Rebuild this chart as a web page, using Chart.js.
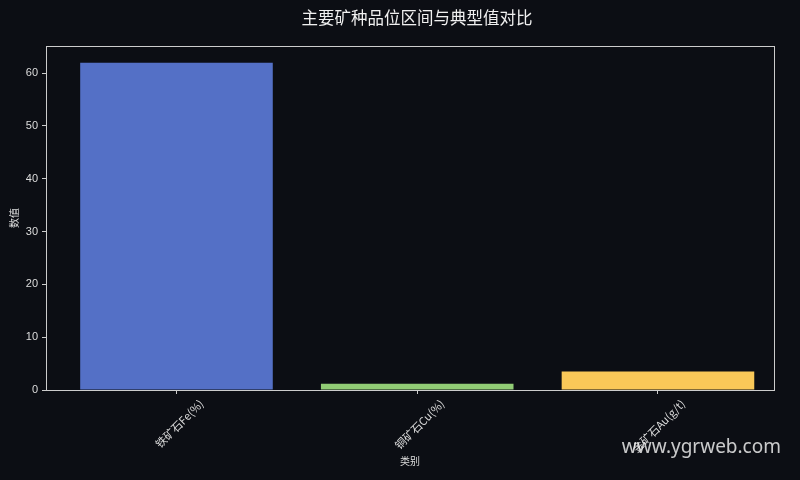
<!DOCTYPE html>
<html><head><meta charset="utf-8">
<script src="https://cdn.jsdelivr.net/npm/chart.js@4"></script>
<style>html,body{margin:0;padding:0;background:#0c0e14;}#wrap{width:800px;height:480px;}</style>
</head><body><div id="wrap"><canvas id="c" width="800" height="480"></canvas></div>
<script>
const categories = ['铁矿石Fe(%)', '铜矿石Cu(%)', '金矿石Au(g/t)'];
const values = [62, 1.2, 3.5];
const colors = ['#5470c6', '#91cc75', '#fac858'];
const yTicks = [0, 10, 20, 30, 40, 50, 60];
const titleText = '主要矿种品位区间与典型值对比';
const xTitle = '类别';
const yTitle = '数值';
const watermark = 'www.ygrweb.com';

const FONT = '"Liberation Sans", "Noto Sans CJK SC", sans-serif';
const CJK = '"Noto Sans CJK SC", sans-serif';
const TXT = '#dddddd';
const AX = '#cccccc';

const bgPlugin = {
  id: 'bg',
  beforeDraw(chart) {
    const ctx = chart.ctx;
    ctx.save();
    ctx.fillStyle = '#0c0e14';
    ctx.fillRect(0, 0, chart.width, chart.height);
    ctx.restore();
  },
  afterDraw(chart) {
    const ctx = chart.ctx, a = chart.chartArea;
    ctx.save();
    ctx.strokeStyle = AX;
    ctx.lineWidth = 1;
    ctx.strokeRect(Math.round(a.left) + 0.5, Math.round(a.top) + 0.5, Math.round(a.right - a.left), Math.round(a.bottom - a.top));
    // main title
    ctx.font = '16.5px ' + CJK;
    ctx.fillStyle = '#f0f0f0';
    ctx.textAlign = 'center';
    ctx.textBaseline = 'middle';
    ctx.fillText(titleText, 417, 18);
    // watermark
    ctx.font = '19px "Noto Sans", "DejaVu Sans", sans-serif';
    ctx.fillStyle = 'rgba(235,235,235,0.85)';
    ctx.textAlign = 'right';
    ctx.fillText(watermark, 781, 448);
    ctx.restore();
  }
};

new Chart(document.getElementById('c'), {
  type: 'bar',
  data: {
    datasets: [{
      data: values.map((v, i) => ({ x: i, y: v })),
      backgroundColor: colors,
      borderWidth: 0,
      barPercentage: 0.8,
      categoryPercentage: 1.0
    }]
  },
  options: {
    responsive: false,
    animation: false,
    layout: { padding: { left: 4, right: 26, top: 46, bottom: 9 } },
    plugins: {
      legend: { display: false },
      tooltip: { enabled: false },
      title: { display: false }
    },
    scales: {
      x: {
        type: 'linear', min: -0.542, max: 2.482, offset: false,
        afterBuildTicks(scale) { scale.ticks = categories.map((c, i) => ({ value: i })); },
        afterFit(scale) { scale.height = 81; },
        ticks: {
          color: TXT, font: { family: CJK, size: 11 },
          maxRotation: 45, minRotation: 45, autoSkip: false, labelOffset: 25,
          callback: (v) => categories[v] ?? ''
        },
        grid: { display: true, drawOnChartArea: false, drawTicks: true, tickLength: 4, color: AX, offset: false },
        border: { color: AX },
        title: { display: true, text: xTitle, color: TXT, font: { family: CJK, size: 10 }, padding: { top: 0 } }
      },
      y: {
        min: 0, max: 65.15,
        afterBuildTicks(scale) { scale.ticks = yTicks.map(v => ({ value: v })); },
        afterFit(scale) { scale.width = 42; },
        ticks: { color: TXT, font: { family: FONT, size: 11 }, padding: 4 },
        grid: { display: true, drawOnChartArea: false, drawTicks: true, tickLength: 4, color: AX },
        border: { color: AX },
        title: { display: true, text: yTitle, color: TXT, font: { family: CJK, size: 10 }, padding: { bottom: 0 } }
      }
    }
  },
  plugins: [bgPlugin]
});
</script></body></html>
